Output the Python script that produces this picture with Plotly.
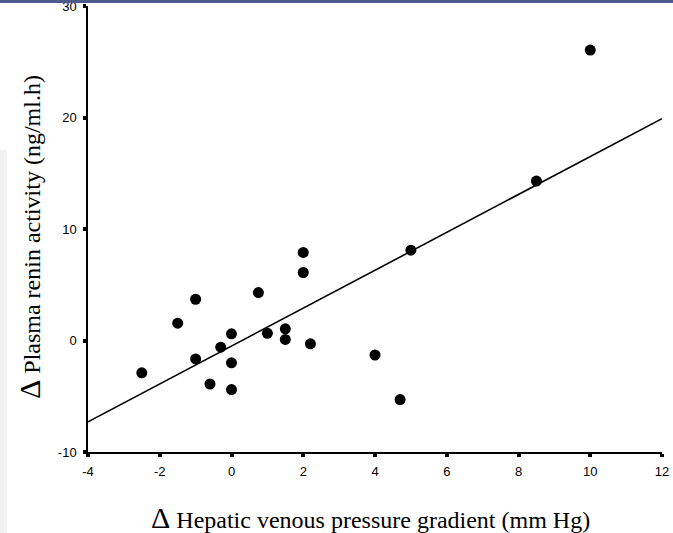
import plotly.graph_objects as go

# Data
delta_hvpg = [-2.5, -1.5, -1.0, -1.0, -0.6, -0.3, 0.0, 0.0, 0.0, 0.75, 1.0, 1.5, 1.5,
              2.0, 2.0, 2.2, 4.0, 4.7, 5.0, 8.5, 10.0]
delta_pra = [-2.9, 1.55, 3.7, -1.65, -3.9, -0.6, 0.6, -2.0, -4.4, 4.3, 0.65, 1.05, 0.1,
             7.9, 6.1, -0.3, -1.3, -5.3, 8.1, 14.3, 26.05]

# Regression line end points
fit_x = [-4, 12]
fit_y = [-7.3, 19.9]

x_ticks = [-4, -2, 0, 2, 4, 6, 8, 10, 12]
y_ticks = [-10, 0, 10, 20, 30]

x_title = "Hepatic venous pressure gradient (mm Hg)"
y_title = "Plasma renin activity (ng/ml.h)"
delta = '<span style="font-size:30px">Δ</span> '

W, H = 673, 533
L, R, T, B = 88, 11, 6, 81
pw, ph = W - L - R, H - T - B

def px(p):
    return (p - L) / pw

def py(p):
    return (H - B - p) / ph

fig = go.Figure()
fig.add_trace(go.Scatter(x=fit_x, y=fit_y, mode="lines",
                         line=dict(color="black", width=1.6), hoverinfo="skip"))
fig.add_trace(go.Scatter(x=delta_hvpg, y=delta_pra, mode="markers",
                         marker=dict(color="black", size=11)))

axis_common = dict(showgrid=False, zeroline=False, showline=True, linecolor="black",
                   linewidth=1.5, ticks="outside", ticklen=3, tickwidth=4, tickcolor="black",
                   automargin=False, ticklabeloverflow="allow", ticklabelstandoff=4,
                   tickfont=dict(family="Liberation Sans, Arial", size=13, color="black"))

fig.update_xaxes(range=[-4, 12], tickvals=x_ticks, ticktext=[str(v) for v in x_ticks],
                 **axis_common)
fig.update_yaxes(range=[-10, 30], tickvals=y_ticks, ticktext=[str(v) for v in y_ticks],
                 **axis_common)

fig.update_layout(
    width=W, height=H,
    margin=dict(l=L, r=R, t=T, b=B, autoexpand=False),
    plot_bgcolor="white", paper_bgcolor="white",
    showlegend=False,
    annotations=[
        dict(text=delta + x_title, xref="paper", yref="paper",
             x=px(370), y=py(517), showarrow=False, xanchor="center", yanchor="middle",
             font=dict(family="Liberation Serif, Times New Roman", size=24, color="black")),
        dict(text=delta + y_title, xref="paper", yref="paper",
             x=px(29), y=py(237), showarrow=False, xanchor="center", yanchor="middle",
             textangle=-90,
             font=dict(family="Liberation Serif, Times New Roman", size=24, color="black")),
    ],
    shapes=[
        dict(type="rect", xref="paper", yref="paper", x0=px(0), x1=px(W), y0=py(3), y1=py(0),
             fillcolor="#4c5a8c", line=dict(width=0), layer="above"),
        dict(type="rect", xref="paper", yref="paper", x0=px(0), x1=px(7), y0=py(H), y1=py(150),
             fillcolor="#f2f2f4", line=dict(width=0), layer="below"),
    ],
)

fig.write_html("out.html", config={"displayModeBar": False},
               post_script="document.body.style.margin='0';document.body.style.overflow='hidden';")
